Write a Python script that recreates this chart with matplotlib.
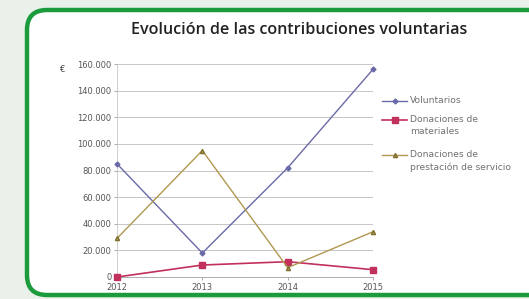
import matplotlib
matplotlib.use("Agg")
import matplotlib.pyplot as plt
from matplotlib.patches import FancyBboxPatch

years = [2012, 2013, 2014, 2015]
voluntarios = [85000, 18000, 82000, 156000]
materiales = [0, 9000, 11500, 5500]
servicios = [29000, 95000, 7000, 34000]
yticks = [0, 20000, 40000, 60000, 80000, 100000, 120000, 140000, 160000]
ytick_labels = ["0", "20.000", "40.000", "60.000", "80.000", "100.000", "120.000", "140.000", "160.000"]
series_names = ["Voluntarios", "Donaciones de\nmateriales", "Donaciones de\nprestación de servicio"]

W, H = 529, 299
fig = plt.figure(figsize=(W / 100, H / 100), dpi=100)
fig.patch.set_facecolor("#eaf0ea")

bg = fig.add_axes([0, 0, 1, 1])
bg.set_xlim(0, W)
bg.set_ylim(H, 0)
bg.axis("off")
box = FancyBboxPatch((27, 10), 530, 285, boxstyle="round,pad=0,rounding_size=20",
                     facecolor="white", edgecolor="#1c9b3c", linewidth=3.2)
bg.add_patch(box)
bg.text(299, 30, "Evolución de las contribuciones voluntarias", ha="center", va="center",
        fontsize=11.6, fontweight="semibold", family="Open Sans", color="#222222")
bg.text(62, 70, "€", ha="center", va="center", fontsize=6, color="#444444")

x0, x1 = 117, 373
y0, y1 = 277, 64
ax = fig.add_axes([x0 / W, 1 - y0 / H, (x1 - x0) / W, (y0 - y1) / H])
ax.set_xlim(2012, 2015)
ax.set_ylim(0, 160000)
ax.set_facecolor("none")
ax.set_yticks(yticks)
ax.set_yticklabels(ytick_labels)
ax.set_xticks(years)
ax.set_xticklabels([str(y) for y in years])
ax.tick_params(axis="both", labelsize=6, colors="#888888", length=2, width=0.5, labelcolor="#555555", pad=2)
ax.grid(axis="y", color="#bdbdbd", linewidth=0.6)
for s in ["top", "right"]:
    ax.spines[s].set_visible(False)
ax.spines["left"].set_color("#c8c8c8")
ax.spines["bottom"].set_color("#a0a0a0")
ax.spines["left"].set_linewidth(0.6)
ax.spines["bottom"].set_linewidth(0.6)

styles = [
    dict(color="#6a6aa8", marker="D", markersize=2.5, linewidth=1.0),
    dict(color="#c2305c", marker="s", markersize=4.5, linewidth=1.2),
    dict(color="#b09850", marker="^", markersize=3, linewidth=1.0, markeredgecolor="#807030"),
]
for vals, st in zip([voluntarios, materiales, servicios], styles):
    ax.plot(years, vals, clip_on=False, zorder=3, **st)

# legend drawn manually (Excel style: marker aligned with first text line)
leg_y = [101, 120, 155]
for name, st, yy in zip(series_names, styles, leg_y):
    bg.plot([382, 407], [yy, yy], color=st["color"], linewidth=st["linewidth"])
    bg.plot([394.5], [yy], linestyle="none", marker=st["marker"], markersize=st["markersize"],
            color=st["color"], markeredgecolor=st.get("markeredgecolor", st["color"]))
    bg.text(410, yy - 5, name, ha="left", va="top", fontsize=6.6, color="#707070",
            linespacing=1.45)

fig.savefig("out.png", dpi=100)
